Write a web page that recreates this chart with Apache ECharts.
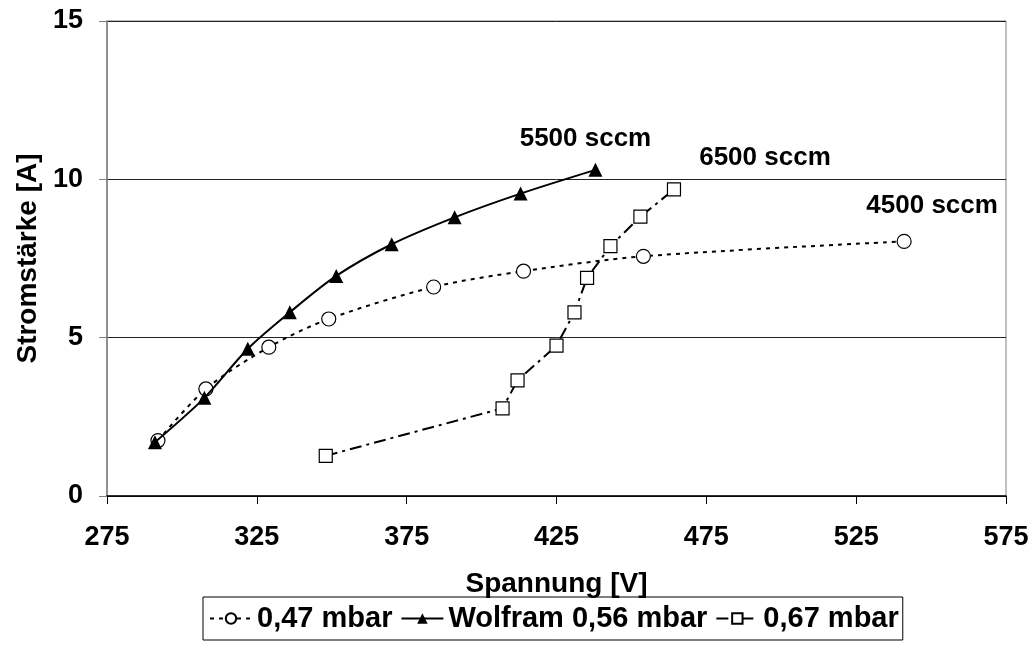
<!DOCTYPE html>
<html>
<head>
<meta charset="utf-8">
<script src="https://cdn.jsdelivr.net/npm/echarts@6/dist/echarts.min.js"></script>
<style>html,body{margin:0;padding:0;background:#fff}#c{width:1036px;height:658px}</style>
</head>
<body>
<div id="c"></div>
<script>
// Data
var seriesNames = ['0,47 mbar', 'Wolfram 0,56 mbar', '0,67 mbar'];
var endLabels = ['4500 sccm', '5500 sccm', '6500 sccm'];
var xTicks = [275, 325, 375, 425, 475, 525, 575];
var yTicks = [0, 5, 10, 15];

var v047_x = [292, 308, 329, 349, 384, 414, 454, 541];
var v047_y = [1.75, 3.38, 4.7, 5.59, 6.6, 7.1, 7.57, 8.04];

var w056_x = [291, 307.5, 322, 336, 351.5, 370, 391, 413, 438];
var w056_y = [1.7, 3.1, 4.65, 5.8, 6.95, 7.95, 8.8, 9.55, 10.3];

var v067_x = [348, 407, 412, 425, 431, 435.2, 443, 453, 464.2];
var v067_y = [1.27, 2.77, 3.65, 4.75, 5.8, 6.89, 7.89, 8.82, 9.68];

var FONT = '"Liberation Sans", Arial, sans-serif';

function build(xs, ys, labelText, offset) {
  return xs.map(function (x, i) {
    var item = { value: [x, ys[i]] };
    if (i === xs.length - 1) {
      item.label = {
        show: true, formatter: labelText, position: 'inside', offset: offset,
        fontFamily: FONT, fontWeight: 'bold', fontSize: 26, color: '#000'
      };
    }
    return item;
  });
}

var chart = echarts.init(document.getElementById('c'), null, { renderer: 'canvas' });
chart.setOption({
  animation: false,
  backgroundColor: '#fff',
  grid: { left: 107, right: 30, top: 21, bottom: 162, show: true, borderColor: '#808080', borderWidth: 1, backgroundColor: 'transparent' },
  xAxis: {
    type: 'value', min: 275, max: 575, interval: 25,
    name: 'Spannung [V]', nameLocation: 'middle', nameGap: 74,
    nameTextStyle: { fontFamily: FONT, fontWeight: 'bold', fontSize: 28, color: '#000' },
    axisLine: { show: true, onZero: false, lineStyle: { color: '#000', width: 1.5 } },
    axisTick: { show: true, inside: false, length: 8, customValues: xTicks, lineStyle: { color: '#000', width: 1 } },
    axisLabel: { customValues: xTicks, margin: 28, fontFamily: FONT, fontWeight: 'bold', fontSize: 27, color: '#000' },
    splitLine: { show: false }
  },
  yAxis: {
    type: 'value', min: 0, max: 15, interval: 5,
    name: 'Stromstärke [A]', nameLocation: 'middle', nameGap: 62,
    nameTextStyle: { fontFamily: FONT, fontWeight: 'bold', fontSize: 28, color: '#000' },
    axisLine: { show: true, lineStyle: { color: '#808080', width: 1.5 } },
    axisTick: { show: true, inside: false, length: 8, lineStyle: { color: '#808080', width: 1 } },
    axisLabel: { margin: 24, fontFamily: FONT, fontWeight: 'bold', fontSize: 27, color: '#000' },
    splitLine: { show: true, lineStyle: { color: '#222', width: 1 } }
  },
  legend: {
    left: 203, top: 597,
    data: seriesNames,
    itemWidth: 42, itemHeight: 13, itemGap: 8,
    borderColor: '#000', borderWidth: 1, padding: [7, 4, 7, 6],
    textStyle: { fontFamily: FONT, fontWeight: 'bold', fontSize: 29, color: '#000' }
  },
  series: [
    {
      name: seriesNames[0], type: 'line', smooth: 0.3,
      data: build(v047_x, v047_y, endLabels[0], [28, -36]),
      symbol: 'circle', symbolSize: 14,
      itemStyle: { color: '#fff', borderColor: '#000', borderWidth: 1.2 },
      lineStyle: { color: '#000', width: 2, type: [4, 5] },
      z: 3
    },
    {
      name: seriesNames[1], type: 'line', smooth: 0.3,
      data: build(w056_x, w056_y, endLabels[1], [-10, -31]),
      symbol: 'triangle', symbolSize: 14,
      itemStyle: { color: '#000', borderColor: '#000', borderWidth: 0 },
      lineStyle: { color: '#000', width: 2, type: 'solid' },
      z: 4
    },
    {
      name: seriesNames[2], type: 'line', smooth: false,
      data: build(v067_x, v067_y, endLabels[2], [91, -32]),
      symbol: 'rect', symbolSize: 13,
      itemStyle: { color: '#fff', borderColor: '#000', borderWidth: 1.2 },
      lineStyle: { color: '#000', width: 2, type: [12, 5, 3, 5] },
      z: 5
    }
  ]
});
</script>
</body>
</html>
